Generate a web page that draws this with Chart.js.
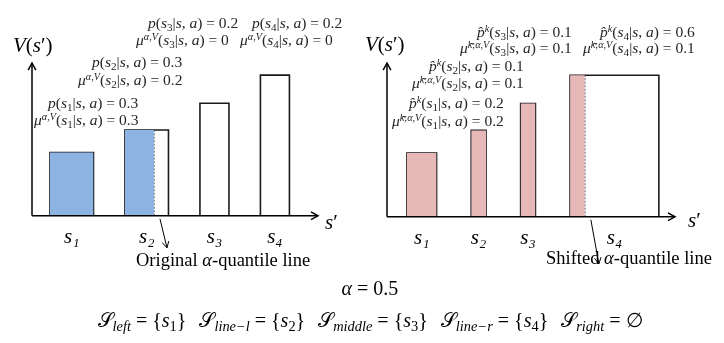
<!DOCTYPE html>
<html>
<head>
<meta charset="utf-8">
<script src="https://cdn.jsdelivr.net/npm/chart.js@4.4.1/dist/chart.umd.min.js"></script>
<style>
  html, body { margin: 0; padding: 0; background: #fff; }
  #wrap { position: relative; width: 724px; height: 343px; overflow: hidden;
          font-family: "Liberation Serif", "DejaVu Serif", serif; color: #000; }
  .panel { position: absolute; top: 0; }
  .txt { position: absolute; white-space: nowrap; line-height: 1; }
  .note { color: #262626; }
  .sb { font-size: 72%; position: relative; top: 0.28em; }
  .sp { font-size: 66%; position: relative; top: -0.5em; }
  .gap { display: inline-block; width: 13px; }
</style>
</head>
<body>
<div id="wrap">
  <canvas id="leftChart" class="panel" width="362" height="343" style="left:0"></canvas>
  <canvas id="rightChart" class="panel" width="362" height="343" style="left:362px"></canvas>
</div>
<script>
// data
const states = ['s1', 's2', 's3', 's4'];
const stateLabels = ['s₁', 's₂', 's₃', 's₄'];
const values = [45, 61, 80, 100];          // V(s') of each next state
const pOriginal = [0.3, 0.3, 0.2, 0.2];     // p(s'|s,a)  -> bar width
const muOriginal = [0.3, 0.2, 0, 0];        // mu^{alpha,V}  -> shaded width
const pShifted = [0.2, 0.1, 0.1, 0.6];      // p^k hat
const muShifted = [0.2, 0.1, 0.1, 0.1];     // mu^{k;alpha,V} hat

const wrap = document.getElementById('wrap');

// arrowhead helper (open chevron)
function head(ctx, x, y, ang, len) {
    ctx.beginPath();
    ctx.moveTo(x - len * Math.cos(ang - 0.5), y - len * Math.sin(ang - 0.5));
    ctx.lineTo(x, y);
    ctx.lineTo(x - len * Math.cos(ang + 0.5), y - len * Math.sin(ang + 0.5));
    ctx.stroke();
}

const axisArrows = {
    id: 'axisArrows',
    afterDatasetsDraw(chart, args, opts) {
        const { ctx, chartArea: { left, right, top, bottom } } = chart;
        ctx.save();
        ctx.strokeStyle = '#000';
        ctx.lineWidth = 1.5;
        ctx.beginPath();
        ctx.moveTo(left, bottom); ctx.lineTo(right, bottom);
        ctx.moveTo(left, bottom); ctx.lineTo(left, top);
        ctx.stroke();
        head(ctx, right, bottom, 0, 8);
        head(ctx, left, top, -Math.PI / 2, 8);

        // pointer from the quantile line down to its caption
        const sx = chart.scales.x.getPixelForValue(opts.split) + 6;
        const sy = bottom + 3;
        const ex = sx + opts.pointer[0], ey = sy + opts.pointer[1];
        ctx.lineWidth = 1;
        ctx.beginPath();
        ctx.moveTo(sx, sy); ctx.lineTo(ex, ey);
        ctx.stroke();
        head(ctx, ex, ey, Math.atan2(ey - sy, ex - sx), 7);
        ctx.restore();
    }
};

const rect = (x0, x1, v) => [{ x: x0, y: 0 }, { x: x0, y: v }, { x: x1, y: v }, { x: x1, y: 0 }];

const makePanel = (cfg) => {
    const datasets = [];
    const centers = [];
    let split = 0;
    let x = cfg.offset;
    cfg.probs.forEach((p, i) => {
        const v = values[i], m = cfg.mus[i];
        if (m > 0) {
            datasets.push({ data: rect(x, x + m, v), fill: 'origin', backgroundColor: cfg.color,
                            borderWidth: 0, borderColor: 'rgba(0,0,0,0)' });
        }
        datasets.push({ data: rect(x, x + p, v), fill: false, borderColor: '#1a1a1a', borderWidth: 1.6 });
        if (m > 0 && m < p) {
            split = x + m;
            datasets.push({ data: [{ x: split, y: 0 }, { x: split, y: v }], fill: false,
                            borderColor: '#3a4658', borderWidth: 1.2, borderDash: [2, 1.5] });
        }
        centers.push(x + p / 2);
        x += p + cfg.gap;
    });

    new Chart(document.getElementById(cfg.canvas).getContext('2d'), {
        type: 'line',
        data: { datasets },
        options: {
            responsive: false,
            animation: false,
            events: [],
            elements: { point: { radius: 0 }, line: { tension: 0 } },
            layout: { padding: cfg.pad },
            plugins: {
                legend: { display: false },
                tooltip: { enabled: false },
                axisArrows: { split, pointer: cfg.pointer }
            },
            scales: {
                x: {
                    type: 'linear', min: 0, max: cfg.xMax,
                    afterBuildTicks: axis => { axis.ticks = centers.map(value => ({ value })); },
                    ticks: {
                        callback: (v, i) => stateLabels[i],
                        autoSkip: false, maxRotation: 0, padding: 9, color: '#000',
                        font: { family: 'Liberation Serif', style: 'italic', size: 21 }
                    },
                    grid: { display: false, drawTicks: false },
                    border: { display: false }
                },
                y: { type: 'linear', min: 0, max: 108.6, display: false }
            }
        },
        plugins: [axisArrows]
    });
};

makePanel({ canvas: 'leftChart', probs: pOriginal, mus: muOriginal, color: '#8db3e2',
            offset: 0.124, gap: 0.217, xMax: 1.972, pointer: [7, 29],
            pad: { left: 32, right: 44, top: 63, bottom: 84 } });
makePanel({ canvas: 'rightChart', probs: pShifted, mus: muShifted, color: '#e6b9b8',
            offset: 0.135, gap: 0.234, xMax: 1.946, pointer: [8, 44],
            pad: { left: 25, right: 49, top: 63, bottom: 83 } });

// text overlays
function place(html, size, x, y, align, cls) {
    const el = document.createElement('div');
    el.className = 'txt ' + (cls || '');
    el.style.fontSize = size + 'px';
    el.innerHTML = html;
    wrap.appendChild(el);
    const w = el.offsetWidth, h = el.offsetHeight;
    const left = align === 'right' ? x - w : align === 'center' ? x - w / 2 : x;
    el.style.left = left + 'px';
    el.style.top = (y - h / 2) + 'px';
    return el;
}

const sub = s => `<span class="sb">${s}</span>`;
const sup = s => `<span class="sp">${s}</span>`;
const cond = i => `(<i>s</i>${sub(i + 1)}|<i>s</i>, <i>a</i>)`;
const noteText = {
    p: i => `<i>p</i>${cond(i)} = ${pOriginal[i]}`,
    mu: i => `<i>μ</i>${sup('<i>α</i>,<i>V</i>')}${cond(i)} = ${muOriginal[i]}`,
    pHat: i => `<i>p̂</i>${sup('<i>k</i>')}${cond(i)} = ${pShifted[i]}`,
    muHat: i => `<i>μ̂</i>${sup('<i>k</i>;<i>α</i>,<i>V</i>')}${cond(i)} = ${muShifted[i]}`
};
// kind, state index, right edge, centre y
const notes = [
    ['p', 0, 138, 103], ['mu', 0, 138, 120],
    ['p', 1, 182, 62], ['mu', 1, 182, 80],
    ['p', 2, 238, 23], ['mu', 2, 229, 40],
    ['p', 3, 342, 23], ['mu', 3, 333, 40],
    ['pHat', 0, 504, 103], ['muHat', 0, 504, 121],
    ['pHat', 1, 524, 66], ['muHat', 1, 524, 83],
    ['pHat', 2, 572, 32], ['muHat', 2, 572, 48],
    ['pHat', 3, 695, 32], ['muHat', 3, 695, 48]
];
notes.forEach(([kind, i, x, y]) => place(noteText[kind](i), 15.5, x, y, 'right', 'note'));

place('<i>V</i>(<i>s</i>′)', 21, 13, 45, 'left');
place('<i>V</i>(<i>s</i>′)', 21, 365, 44, 'left');
place('<i>s</i>′', 21, 325, 222, 'left');
place('<i>s</i>′', 21, 688, 220, 'left');

place('Original <i>α</i>-quantile line', 18.5, 223, 260, 'center');
place('Shifted <i>α</i>-quantile line', 18.5, 629, 258, 'center');

const S = '𝒮';
const setItem = (name, rhs) => `${S}${sub('<i>' + name + '</i>')} = ${rhs}`;
const sets = [
    setItem('left', `{<i>s</i>${sub(1)}}`),
    setItem('line−l', `{<i>s</i>${sub(2)}}`),
    setItem('middle', `{<i>s</i>${sub(3)}}`),
    setItem('line−r', `{<i>s</i>${sub(4)}}`),
    setItem('right', '∅')
].join('<span class="gap"></span>');

place('<i>α</i> = 0.5', 20, 370, 288, 'center');
place(sets, 20, 370, 320, 'center');
</script>
</body>
</html>
